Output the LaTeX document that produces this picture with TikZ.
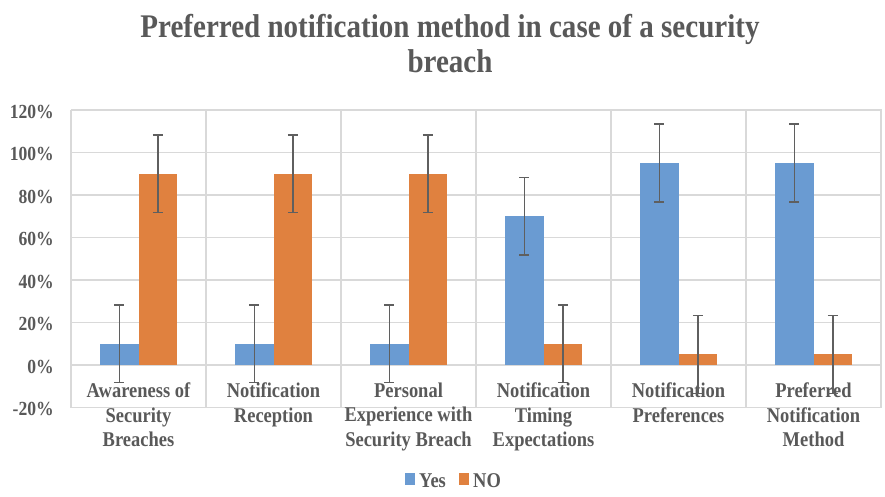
\documentclass[tikz,border=0pt]{standalone}
\usepackage{fontspec}
\setmainfont{Liberation Serif}
\newfontfamily\condbf[FakeStretch=0.88]{Liberation Serif Bold}
\definecolor{txtc}{HTML}{595959}
\definecolor{gridc}{HTML}{D9D9D9}
\definecolor{yesc}{HTML}{6A9BD2}
\definecolor{noc}{HTML}{E0813F}
\definecolor{errc}{HTML}{5F5F5F}
\tikzset{
  gridline/.style={draw=gridc, line width=1.3pt},
  ylab/.style={anchor=base east, inner sep=0pt, text=txtc, font=\condbf\fontsize{20}{24}\selectfont},
  catlab/.style={anchor=north, inner sep=0pt, align=center, text=txtc, font=\condbf\fontsize{21}{24.5}\selectfont},
  titlelab/.style={anchor=north, inner sep=0pt, align=center, text=txtc, font=\condbf\fontsize{33}{35}\selectfont},
  leglab/.style={anchor=base west, inner sep=0pt, text=txtc, font=\condbf\fontsize{21}{24}\selectfont},
  yesbar/.style={fill=yesc, draw=none},
  nobar/.style={fill=noc, draw=none},
  errbar/.style={draw=errc, line width=1.5pt},
}
\begin{document}
\begin{tikzpicture}[x=1pt,y=-1pt]
\useasboundingbox (0,0) rectangle (885,496);
\fill[white] (0,0) rectangle (885,496);
% title
\node[titlelab] (title) at (450,14.5) {Preferred notification method in case of a security\\breach};
% grid
\foreach \v in {-20,0,20,40,60,80,100,120}{
  \draw[gridline] (71,{365-2.125*\v}) -- (882,{365-2.125*\v});
  \node[ylab] (y\v) at (54,{373.3-2.125*\v}) {\v\%};
}
\foreach \i in {0,...,6}{
  \draw[gridline] ({71+135*\i},110) -- ({71+135*\i},407.5);
}
% bars
\foreach \i/\yv/\nv in {0/10/90,1/10/90,2/10/90,3/70/10,4/95/5,5/95/5}{
  \pgfmathsetmacro{\c}{138.5+135*\i}
  \fill[yesbar] ({\c-38.5},365) rectangle (\c,{365-2.125*\yv});
  \fill[nobar] (\c,365) rectangle ({\c+38.5},{365-2.125*\nv});
}
% category labels
\node[catlab] (c0) at (138.5,382.6) {Awareness of\\Security\\Breaches};
\node[catlab] (c1) at (273.5,382.6) {Notification\\Reception};
\node[catlab] (c2) at (408.5,382.6) {Personal\\Experience with\\Security Breach};
\node[catlab] (c3) at (543.5,382.6) {Notification\\Timing\\Expectations};
\node[catlab] (c4) at (678.5,382.6) {Notification\\Preferences};
\node[catlab] (c5) at (813.5,382.6) {Preferred\\Notification\\Method};
% error bars
\foreach \i/\yv/\nv in {0/10/90,1/10/90,2/10/90,3/70/10,4/95/5,5/95/5}{
  \pgfmathsetmacro{\c}{138.5+135*\i}
  \foreach \x/\v in {{\c-19.25}/\yv,{\c+19.25}/\nv}{
    \pgfmathsetmacro{\xx}{\x}
    \pgfmathsetmacro{\top}{365-2.125*(\v+18.3)}
    \pgfmathsetmacro{\bot}{365-2.125*(\v-18.3)}
    \draw[errbar] (\xx,\top) -- (\xx,\bot);
    \draw[errbar] (\xx-5,\top) -- (\xx+5,\top);
    \draw[errbar] (\xx-5,\bot) -- (\xx+5,\bot);
  }
}
% legend
\fill[yesbar] (405,473) rectangle (415,485);
\node[leglab] (lyes) at (419,487) {Yes};
\fill[nobar] (459,473) rectangle (469,485);
\node[leglab] (lno) at (473,487) {NO};
\end{tikzpicture}
\end{document}
